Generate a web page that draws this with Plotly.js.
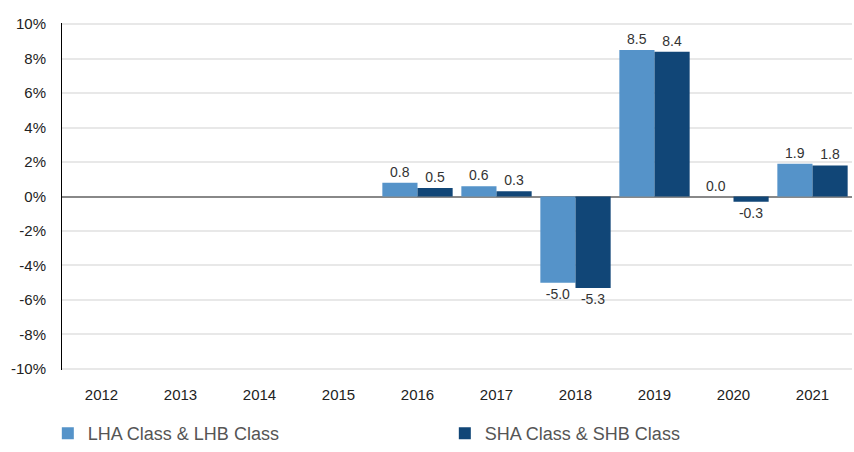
<!DOCTYPE html>
<html>
<head>
<meta charset="utf-8">
<script src="https://cdn.plot.ly/plotly-3.0.1.min.js"></script>
<style>html,body{margin:0;padding:0;background:#fff;}#chart{width:854px;height:452px;}</style>
</head>
<body>
<div id="chart"></div>
<script>
const years = ["2012","2013","2014","2015","2016","2017","2018","2019","2020","2021"];
const lhaValues = [null, null, null, null, 0.8, 0.6, -5.0, 8.5, 0.0, 1.9];
const shaValues = [null, null, null, null, 0.5, 0.3, -5.3, 8.4, -0.3, 1.8];
const seriesNames = ["LHA Class & LHB Class", "SHA Class & SHB Class"];
const yTicks = [-10, -8, -6, -4, -2, 0, 2, 4, 6, 8, 10];

const font = "Liberation Sans, Arial, sans-serif";
const traces = [
  {type:"bar", name:seriesNames[0], x:years, y:lhaValues, marker:{color:"#5593C9"},
   texttemplate:"%{y:.1f}", textposition:"outside", cliponaxis:false,
   textfont:{family:font, size:14, color:"#333"}, hoverinfo:"none"},
  {type:"bar", name:seriesNames[1], x:years, y:shaValues, marker:{color:"#114677"},
   texttemplate:"%{y:.1f}", textposition:"outside", cliponaxis:false,
   textfont:{family:font, size:14, color:"#333"}, hoverinfo:"none"}
];
const layout = {
  width:854, height:452,
  margin:{l:62, r:2, t:23, b:82},
  paper_bgcolor:"#fff", plot_bgcolor:"#fff",
  font:{family:font, color:"#333"},
  barmode:"group", bargap:0.11, bargroupgap:0,
  showlegend:true,
  legend:{orientation:"h", x:0.056, xanchor:"left", xref:"container", yref:"container", y:0.0, yanchor:"bottom",
          font:{family:font, size:18, color:"#555"}, entrywidth:352, entrywidthmode:"pixels",
          itemwidth:30},
  xaxis:{type:"category", showgrid:false, showline:false, ticks:"", zeroline:false,
         ticklabelstandoff:14,
         tickfont:{family:font, size:15, color:"#222"}},
  yaxis:{range:[-10.06,10.06], tickvals:yTicks, ticktext:yTicks.map(v=>v+"%"),
         showgrid:true, gridcolor:"#e8e8e8", gridwidth:2,
         zeroline:true, zerolinecolor:"#888", zerolinewidth:2,
         showline:true, linecolor:"#000", linewidth:1, ticklabelstandoff:12,
         tickfont:{family:font, size:15, color:"#222"}, ticks:"", ticklen:0}
};
Plotly.newPlot("chart", traces, layout, {displayModeBar:false, staticPlot:true});
</script>
</body>
</html>
